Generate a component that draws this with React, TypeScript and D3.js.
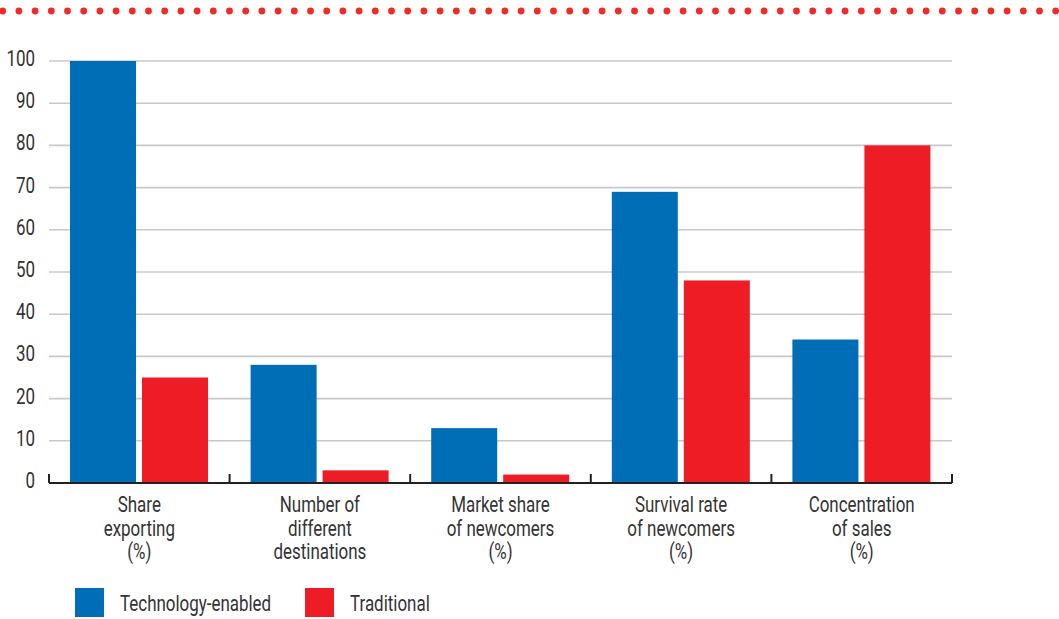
import React from "react";
import * as d3 from "d3";

const categories = [
  ["Share", "exporting", "(%)"],
  ["Number of", "different", "destinations"],
  ["Market share", "of newcomers", "(%)"],
  ["Survival rate", "of newcomers", "(%)"],
  ["Concentration", "of sales", "(%)"],
];
const techValues = [100, 28, 13, 69, 34];
const tradValues = [25, 3, 2, 48, 80];
const yTicks = [0, 10, 20, 30, 40, 50, 60, 70, 80, 90, 100];
const seriesNames = ["Technology-enabled", "Traditional"];

const W = 1059;
const H = 619;
const BLUE = "#006db7";
const RED = "#ee1c25";
const FONT = "Roboto, 'DejaVu Sans', sans-serif";
const FS = 22;
const SX = 0.77;
const TXT = "#333";

function CText({ x, y, anchor = "start", children }: { x: number; y: number; anchor?: string; children: React.ReactNode }) {
  return (
    <g transform={`translate(${x},${y}) scale(${SX},1)`}>
      <text x={0} y={0} textAnchor={anchor} fontSize={FS} fill={TXT}>{children}</text>
    </g>
  );
}

export default function App() {
  const x0 = 49, x1 = 952;
  const y = d3.scaleLinear().domain([0, 100]).range([483, 61]);
  const idx = categories.map((_, i) => String(i));
  const band = d3.scaleBand().domain(idx).range([x0, x1]).paddingInner(0).paddingOuter(0);
  const bw = band.bandwidth();
  const inner = d3.scaleBand().domain(["0", "1"]).range([21, 159]).paddingInner(0.0833);
  const dots = d3.range(2.7, W, 16.2);
  const series = [techValues, tradValues];
  const colors = [BLUE, RED];

  return (
    <svg width={W} height={H} style={{ position: "absolute", left: 0, top: 0 }} fontFamily={FONT}>
      {dots.map((d, i) => (
        <circle key={i} cx={d} cy={11} r={3.4} fill="#ee2a2a" />
      ))}
      {yTicks.map((t) => (
        <g key={t}>
          {t > 0 && <line x1={x0} x2={x1} y1={y(t)} y2={y(t)} stroke="#c8c8cc" strokeWidth={1.6} />}
          <CText x={35} y={y(t) + 5} anchor="end">{t}</CText>
        </g>
      ))}
      {series.map((vals, s) =>
        vals.map((v, i) => (
          <rect
            key={`${s}-${i}`}
            x={band(String(i))! + inner(String(s))!}
            width={inner.bandwidth()}
            y={y(v)}
            height={y(0) - y(v)}
            fill={colors[s]}
          />
        ))
      )}
      <line x1={x0} x2={x1} y1={y(0)} y2={y(0)} stroke="#222" strokeWidth={2} />
      {d3.range(categories.length + 1).map((i) => {
        const xx = i < categories.length ? band(String(i))! : x1;
        return <line key={i} x1={xx} x2={xx} y1={y(0)} y2={y(0) - 9} stroke="#222" strokeWidth={2} />;
      })}
      {categories.map((lines, i) =>
        lines.map((l, j) => (
          <CText key={`${i}-${j}`} x={band(String(i))! + bw / 2} y={512 + j * 23.5} anchor="middle">{l}</CText>
        ))
      )}
      {seriesNames.map((n, s) => (
        <g key={n}>
          <rect x={[75, 305][s]} y={588} width={29} height={29} fill={colors[s]} />
          <CText x={[75, 305][s] + 45} y={611}>{n}</CText>
        </g>
      ))}
    </svg>
  );
}
